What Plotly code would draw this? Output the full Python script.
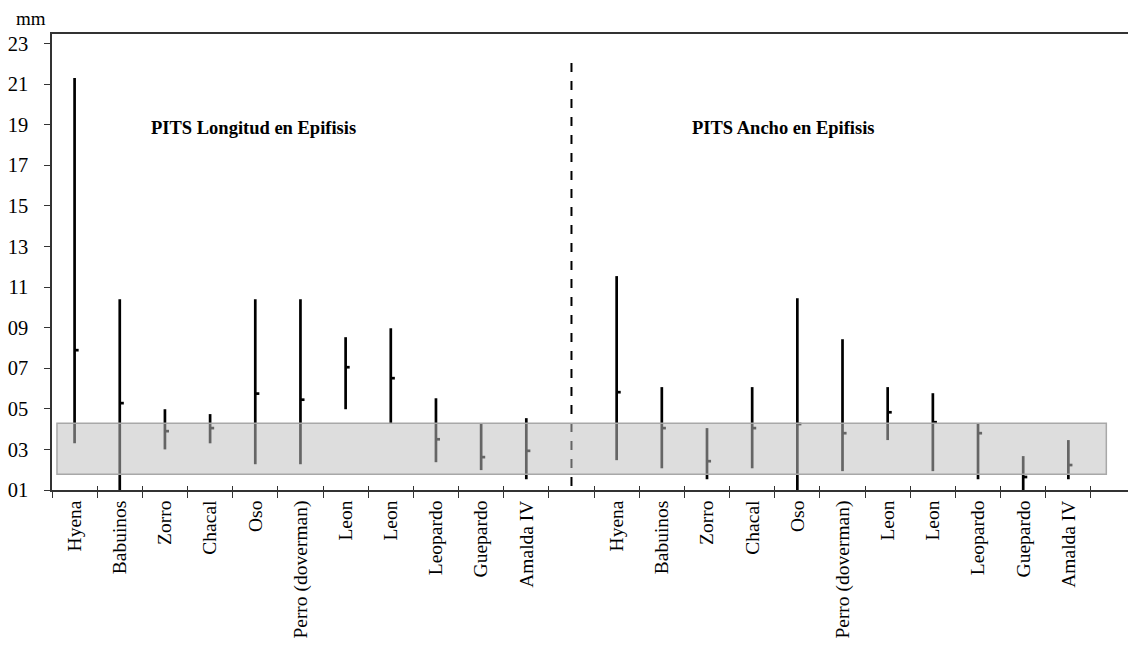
import plotly.graph_objects as go

# ---------------- data ----------------
names = ["Hyena", "Babuinos", "Zorro", "Chacal", "Oso", "Perro (doverman)",
         "Leon", "Leon", "Leopardo", "Guepardo", "Amalda IV"]

left_high = [21.3, 10.4, 4.98, 4.74, 10.4, 10.4, 8.53, 8.97, 5.52, 4.29, 4.54]
left_low = [3.3, 1.0, 3.0, 3.3, 2.27, 2.27, 4.98, 4.29, 2.37, 1.98, 1.53]
left_med = [7.89, 5.28, 3.9, 4.05, 5.75, 5.45, 7.05, 6.51, 3.5, 2.62, 2.93]

right_high = [11.54, 6.07, 4.05, 6.07, 10.45, 8.43, 6.07, 5.77, 4.29, 2.67, 3.46]
right_low = [2.47, 2.07, 1.53, 2.07, 1.0, 1.93, 3.46, 1.93, 1.53, 1.0, 1.53]
right_med = [5.82, 4.05, 2.42, 4.05, 4.25, 3.8, 4.83, 4.34, 3.8, 1.64, 2.23]

group_titles = ["PITS Longitud en Epifisis", "PITS Ancho en Epifisis"]
band_low, band_high = 1.78, 4.29
y_ticks = [1, 3, 5, 7, 9, 11, 13, 15, 17, 19, 21, 23]
y_tick_text = ["01", "03", "05", "07", "09", "11", "13", "15", "17", "19", "21", "23"]
unit_label = "mm"

# ---------------- build ----------------
n = len(names)
left_x = list(range(n))
sep_x = n
right_x = [n + 1 + i for i in range(n)]

xs = left_x + right_x
highs = left_high + right_high
lows = left_low + right_low
meds = left_med + right_med
labels = names + names

FONT = "Liberation Serif"
tick_off = 0.09  # close tick length (category units)

bar_x, bar_y = [], []
for x, lo, hi in zip(xs, lows, highs):
    bar_x += [x, x, None]
    bar_y += [lo, hi, None]

med_x, med_y = [], []
for x, m in zip(xs, meds):
    med_x += [x, x + tick_off, None]
    med_y += [m, m, None]

fig = go.Figure()
fig.add_trace(go.Scatter(x=bar_x, y=bar_y, mode="lines",
                         line=dict(color="black", width=2.7),
                         showlegend=False, hoverinfo="skip"))
fig.add_trace(go.Scatter(x=med_x, y=med_y, mode="lines",
                         line=dict(color="black", width=2.7),
                         showlegend=False, hoverinfo="skip"))
# dummy trace to render the overlay axis (inside tick marks)
fig.add_trace(go.Scatter(x=[0], y=[None], xaxis="x2", mode="markers",
                         showlegend=False, hoverinfo="skip"))

x_range = [-0.5, 23.32]
y_range = [1.0, 23.47]

fig.update_layout(
    width=1128, height=649,
    margin=dict(l=52, r=0, t=34, b=159),
    paper_bgcolor="white", plot_bgcolor="white",
    font=dict(family=FONT, color="black"),
    xaxis=dict(
        range=x_range, tickmode="array", tickvals=xs, ticktext=labels,
        tickangle=-90, ticks="", showgrid=False, zeroline=False, automargin=False,
        showline=True, linecolor="#333", linewidth=1.5, mirror=True,
        tickfont=dict(family=FONT, size=19.5, color="black"),
        ticklabelstandoff=1,
        minor=dict(ticks="outside", tick0=-0.5, dtick=1, ticklen=6,
                   tickwidth=1.3, tickcolor="#333", showgrid=False),
    ),
    xaxis2=dict(
        range=x_range, overlaying="x", anchor="y", side="bottom", automargin=False,
        tickmode="linear", tick0=-0.5, dtick=1, ticks="inside", ticklen=4,
        tickwidth=1.3, tickcolor="#333", showticklabels=False,
        showline=False, showgrid=False, zeroline=False,
    ),
    yaxis=dict(
        range=y_range, tickmode="array", tickvals=y_ticks, ticktext=y_tick_text,
        ticks="outside", ticklen=6, tickwidth=1.3, tickcolor="#333", automargin=False,
        showgrid=False, zeroline=False, showline=True, linecolor="#333",
        linewidth=1.5, tickfont=dict(family=FONT, size=20.5, color="black"),
        ticklabelstandoff=12,
    ),
    shapes=[
        dict(type="line", xref="x", yref="y", x0=sep_x, x1=sep_x, y0=1.2, y1=22.1,
             line=dict(color="black", width=2, dash="dash"), layer="above"),
        dict(type="rect", xref="x", yref="y", x0=-0.39, x1=22.84,
             y0=band_low, y1=band_high,
             fillcolor="rgba(191,191,191,0.53)",
             line=dict(color="#a8a8a8", width=1.5), layer="above"),
    ],
    annotations=[
        dict(text="<b>%s</b>" % group_titles[0], x=(left_x[0] + left_x[-1]) / 2 - 1.05,
             y=18.83, xref="x", yref="y", showarrow=False,
             font=dict(family=FONT, size=18.5, color="black")),
        dict(text="<b>%s</b>" % group_titles[1], x=(right_x[0] + right_x[-1]) / 2 - 1.3,
             y=18.83, xref="x", yref="y", showarrow=False,
             font=dict(family=FONT, size=18.5, color="black")),
        dict(text=unit_label, x=-0.0195, y=1.035, xref="paper", yref="paper",
             xanchor="center", yanchor="middle", showarrow=False,
             font=dict(family=FONT, size=19, color="black")),
    ],
)

fig.write_html("out.html", config={"displayModeBar": False},
               post_script="document.body.style.margin='0';"
                           "document.body.style.overflow='hidden';")
